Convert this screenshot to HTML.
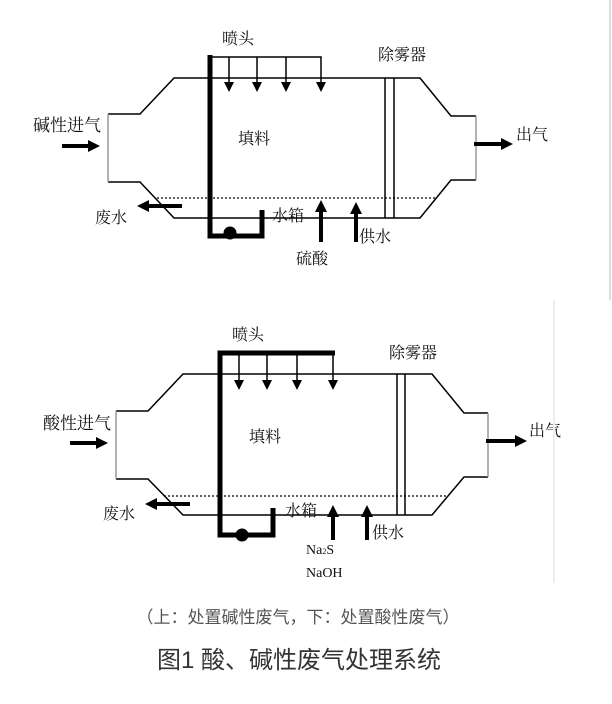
<!DOCTYPE html>
<html><head><meta charset="utf-8"><style>
html,body{margin:0;padding:0;background:#fff}
svg{display:block}
text{font-family:"Liberation Serif","Noto Serif CJK SC",serif;fill:#111}
</style></head><body>
<svg width="612" height="704" viewBox="0 0 612 704" xmlns="http://www.w3.org/2000/svg">
<defs>
<marker id="ah" viewBox="0 0 10 10" refX="5" refY="5" markerWidth="3" markerHeight="3" orient="auto"><path d="M0,0 L10,5 L0,10 z" fill="#000"/></marker>
</defs>
<!-- TOP DIAGRAM -->
<g stroke="#000" fill="none" stroke-width="1.5">
<polyline points="108,114 140,114 174,78 420,78 451,116 476,116"/>
<polyline points="108,182 140,182 174,218 420,218 451,180 476,180"/>
<line x1="108" y1="114" x2="108" y2="182" stroke="#999"/>
<line x1="476" y1="116" x2="476" y2="180" stroke="#999"/>
<line x1="385" y1="78" x2="385" y2="218"/>
<line x1="394" y1="78" x2="394" y2="218"/>
<line x1="157" y1="198" x2="437" y2="198" stroke-dasharray="2,2" stroke-width="1.2"/>
<polyline points="209,57 321,57 321,84"/>
<line x1="229" y1="57" x2="229" y2="84"/><line x1="257" y1="57" x2="257" y2="84"/><line x1="286" y1="57" x2="286" y2="84"/>
</g>
<g fill="#000">
<path d="M224,82 L234,82 L229,92 z"/><path d="M252,82 L262,82 L257,92 z"/><path d="M281,82 L291,82 L286,92 z"/><path d="M316,82 L326,82 L321,92 z"/>
<circle cx="230" cy="233" r="6.5"/>
</g>
<g stroke="#000" fill="none" stroke-width="5">
<polyline points="210,55 210,236 262,236 262,210"/>
</g>
<g stroke="#000" stroke-width="4" fill="none">
<line x1="62" y1="146" x2="94" y2="146" marker-end="url(#ah)"/>
<line x1="474" y1="144" x2="507" y2="144" marker-end="url(#ah)"/>
<line x1="182" y1="206" x2="143" y2="206" marker-end="url(#ah)"/>
<line x1="321" y1="242" x2="321" y2="206" marker-end="url(#ah)"/>
<line x1="356" y1="242" x2="356" y2="208" marker-end="url(#ah)"/>
</g>
<g font-size="16">
<text x="33" y="131" font-size="17">碱性进气</text>
<text x="222" y="44">喷头</text>
<text x="378" y="60">除雾器</text>
<text x="238" y="144">填料</text>
<text x="516" y="140">出气</text>
<text x="95" y="223">废水</text>
<text x="272" y="221">水箱</text>
<text x="296" y="264">硫酸</text>
<text x="359" y="242">供水</text>
</g>
<!-- BOTTOM DIAGRAM -->
<g stroke="#000" fill="none" stroke-width="1.5">
<polyline points="116,411 148,411 183,374 432,374 464,413 488,413"/>
<polyline points="116,479 148,479 183,515 432,515 464,477 488,477"/>
<line x1="116" y1="411" x2="116" y2="479" stroke="#999"/>
<line x1="488" y1="413" x2="488" y2="477" stroke="#999"/>
<line x1="397" y1="374" x2="397" y2="515"/>
<line x1="405" y1="374" x2="405" y2="515"/>
<line x1="164" y1="496" x2="446" y2="496" stroke-dasharray="2,2" stroke-width="1.2"/>
<line x1="239" y1="353" x2="239" y2="382"/><line x1="267" y1="353" x2="267" y2="382"/><line x1="297" y1="353" x2="297" y2="382"/><line x1="333" y1="353" x2="333" y2="382"/>
</g>
<g fill="#000">
<path d="M234,380 L244,380 L239,390 z"/><path d="M262,380 L272,380 L267,390 z"/><path d="M292,380 L302,380 L297,390 z"/><path d="M328,380 L338,380 L333,390 z"/>
<circle cx="242" cy="535" r="6.5"/>
</g>
<g stroke="#000" fill="none" stroke-width="5">
<polyline points="335,353 220,353 220,535 273,535 273,508"/>
</g>
<g stroke="#000" stroke-width="4" fill="none">
<line x1="70" y1="443" x2="102" y2="443" marker-end="url(#ah)"/>
<line x1="486" y1="441" x2="521" y2="441" marker-end="url(#ah)"/>
<line x1="190" y1="504" x2="151" y2="504" marker-end="url(#ah)"/>
<line x1="333" y1="540" x2="333" y2="511" marker-end="url(#ah)"/>
<line x1="367" y1="540" x2="367" y2="511" marker-end="url(#ah)"/>
</g>
<g font-size="16">
<text x="43" y="429" font-size="17">酸性进气</text>
<text x="232" y="340">喷头</text>
<text x="389" y="358">除雾器</text>
<text x="249" y="442">填料</text>
<text x="529" y="436">出气</text>
<text x="103" y="519">废水</text>
<text x="285" y="516">水箱</text>
<text x="372" y="538">供水</text>
<text x="306" y="554" font-size="14">Na<tspan font-size="8">2</tspan>S</text>
<text x="306" y="577" font-size="14">NaOH</text>
</g>
<line x1="554" y1="300" x2="554" y2="583" stroke="#eee" stroke-width="2"/>
<line x1="610" y1="0" x2="610" y2="300" stroke="#ddd" stroke-width="2"/>
<!-- CAPTIONS -->
<text x="298" y="623" font-size="17" text-anchor="middle" style="fill:#555;font-family:'Liberation Sans','Noto Sans CJK SC',sans-serif">（上：处置碱性废气，下：处置酸性废气）</text>
<text x="299" y="668" font-size="24" text-anchor="middle" style="fill:#333;font-family:'Liberation Sans','Noto Sans CJK SC',sans-serif">图1 酸、碱性废气处理系统</text>
</svg>
</body></html>
